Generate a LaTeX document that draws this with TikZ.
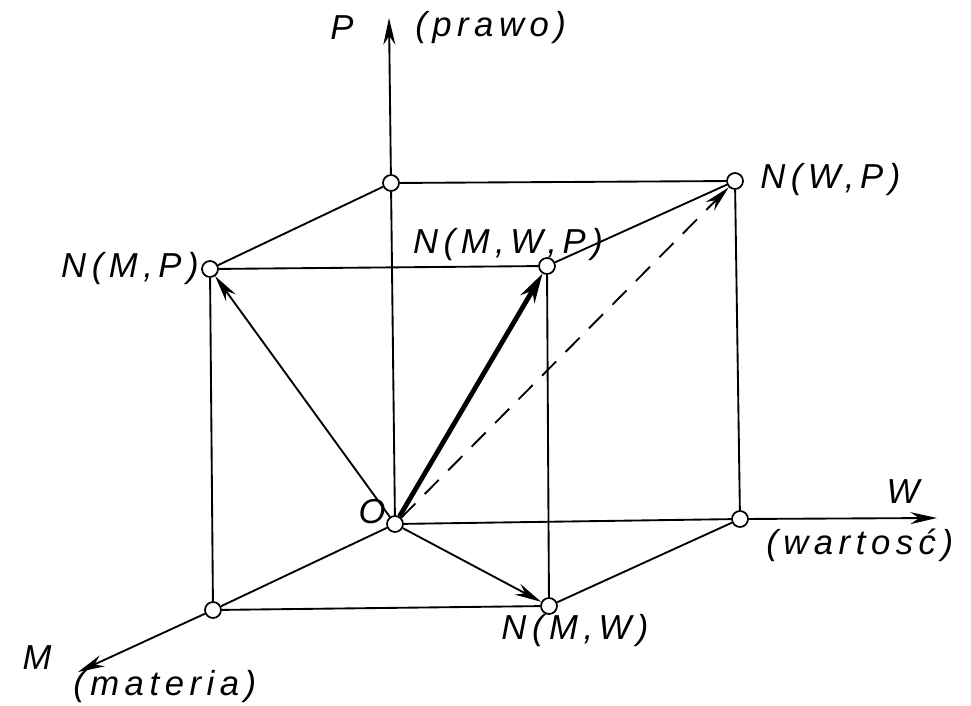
\documentclass[tikz,border=0pt]{standalone}
\usepackage{fontspec}
\setmainfont{Liberation Sans}
\newfontfamily\lbl[LetterSpace=16]{Liberation Sans}
\usetikzlibrary{arrows.meta}
\begin{document}
\begin{tikzpicture}[x=0.75pt,y=-0.75pt,
  pt/.style={circle,draw,fill=white,inner sep=0pt,minimum size=12pt,line width=1.3pt},
  edge/.style={line width=1.4pt},
  vec/.style={line width=1.4pt,-{Stealth[length=20pt,width=9pt]}},
  thickvec/.style={line width=3.6pt,-{Stealth[length=22pt,width=12pt]}},
  dvec/.style={line width=1.4pt,dash pattern=on 15pt off 10pt,-{Stealth[length=20pt,width=9pt]}},
  lab/.style={font=\lbl\itshape\fontsize{26}{30}\selectfont, inner sep=0pt}]
\useasboundingbox (0,0) rectangle (971,706);
% vertices
\node[pt] (O) at (395,524) {};
\node[pt] (PB) at (391,183) {};
\node[pt] (WP) at (735,181) {};
\node[pt] (Wv) at (740,519) {};
\node[pt] (MP) at (210,269) {};
\node[pt] (MWP) at (547,266) {};
\node[pt] (Mv) at (213,610) {};
\node[pt] (MW) at (549,606) {};
\coordinate (Ptip) at (389,18);
\coordinate (Wtip) at (937,518);
\coordinate (Mtip) at (78,672);
% cube edges
\draw[edge] (O) -- (PB);
\draw[edge] (PB) -- (WP);
\draw[edge] (PB) -- (MP);
\draw[edge] (MP) -- (MWP);
\draw[edge] (MWP) -- (WP);
\draw[edge] (WP) -- (Wv);
\draw[edge] (MWP) -- (MW);
\draw[edge] (MP) -- (Mv);
\draw[edge] (Mv) -- (MW);
\draw[edge] (MW) -- (Wv);
\draw[edge] (O) -- (Wv);
\draw[edge] (O) -- (Mv);
% axes
\draw[vec] (PB) -- (Ptip);
\draw[vec] (Wv) -- (Wtip);
\draw[vec] (Mv) -- (Mtip);
% vectors
\draw[vec] (O) -- (MP);
\draw[vec] (O) -- (MW);
\draw[thickvec] (O) -- (MWP);
\draw[dvec] (O) -- (WP);
% labels
\node[lab] (lP) at (342,28) {P};
\node[lab,anchor=west] (lPr) at (415,28) {(prawo)};
\node[lab,anchor=west] (lWP) at (760,180) {N(W,P)};
\node[lab] (lMWP) at (508,245) {N(M,W,P)};
\node[lab,anchor=east] (lMP) at (199,269) {N(M,P)};
\node[lab] (lO) at (372,512) {O};
\node[lab] (lW) at (903,492) {W};
\node[lab,anchor=west] (lWa) at (766,545) {(wartosć)};
\node[lab] (lM) at (37,658) {M};
\node[lab,anchor=west] (lMa) at (73,687) {(materia)};
\node[lab] (lMW) at (575,631) {N(M,W)};
\end{tikzpicture}
\end{document}
